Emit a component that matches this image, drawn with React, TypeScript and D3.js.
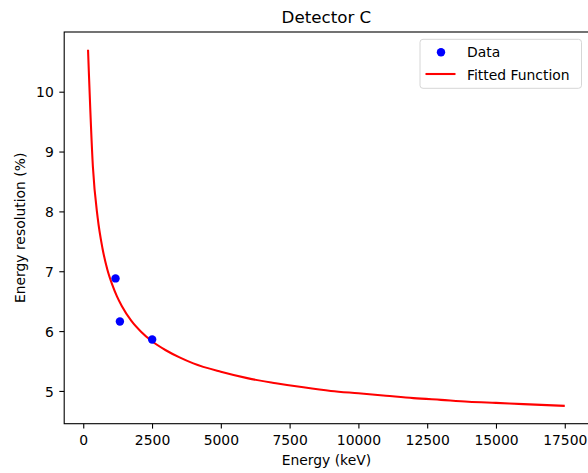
import * as d3 from "d3";
import { useRef, useEffect } from "react";

// measured points
const dataEnergy = [1173, 1332, 2505];
const dataResolution = [6.88, 6.16, 5.86];

// fitted curve
const fitEnergy = [
  174, 350, 525, 700, 875, 1050, 1225, 1400, 1750, 2100, 2500, 3000, 3500, 4000,
  5000, 6000, 7000, 8000, 9000, 10000, 11000, 12000, 13000, 14000, 15000, 16000, 17500,
];
const fitResolution = [
  10.7, 8.75, 7.89, 7.38, 7.03, 6.78, 6.58, 6.42, 6.17, 5.99, 5.83, 5.68, 5.56, 5.46,
  5.32, 5.21, 5.13, 5.06, 5.0, 4.96, 4.92, 4.88, 4.85, 4.82, 4.8, 4.78, 4.75,
];

const xTicks = [0, 2500, 5000, 7500, 10000, 12500, 15000, 17500];
const yTicks = [5, 6, 7, 8, 9, 10];
const legendLabels = ["Data", "Fitted Function"];

const W = 588;
const H = 473;
const margin = { top: 32, right: -0.6, bottom: 49.3, left: 64.2 };
const FONT = "DejaVu Sans, sans-serif";

function App() {
  const ref = useRef<SVGSVGElement>(null);

  useEffect(() => {
    const svg = d3.select(ref.current);
    svg.selectAll("*").remove();

    const x0 = margin.left;
    const x1 = W - margin.right;
    const y0 = margin.top;
    const y1 = H - margin.bottom;

    // matplotlib style 5% margins
    const allX = [...fitEnergy, ...dataEnergy];
    const allY = [...fitResolution, ...dataResolution];
    const [xmin, xmax] = d3.extent(allX) as [number, number];
    const [ymin, ymax] = d3.extent(allY) as [number, number];
    const xp = (xmax - xmin) * 0.05;
    const yp = (ymax - ymin) * 0.05;

    const x = d3.scaleLinear().domain([xmin - xp, xmax + xp]).range([x0, x1]);
    const y = d3.scaleLinear().domain([ymin - yp, ymax + yp]).range([y1, y0]);

    const plot = svg.append("g");

    // fitted line
    const line = d3
      .line<number>()
      .x((d, i) => x(fitEnergy[i]))
      .y((d) => y(d))
      .curve(d3.curveMonotoneX);
    plot
      .append("path")
      .attr("d", line(fitResolution))
      .attr("fill", "none")
      .attr("stroke", "#ff0000")
      .attr("stroke-width", 2.08);

    // data markers
    plot
      .selectAll("circle")
      .data(dataEnergy)
      .join("circle")
      .attr("cx", (d) => x(d))
      .attr("cy", (d, i) => y(dataResolution[i]))
      .attr("r", 4.2)
      .attr("fill", "#0000ff");

    // axes
    const xAxis = svg
      .append("g")
      .attr("transform", `translate(0,${y1})`)
      .call(d3.axisBottom(x).tickValues(xTicks).tickSize(4.9).tickPadding(7).tickFormat(d3.format("d")));
    const yAxis = svg
      .append("g")
      .attr("transform", `translate(${x0},0)`)
      .call(d3.axisLeft(y).tickValues(yTicks).tickSize(4.9).tickPadding(5.5).tickFormat(d3.format("d")));

    [xAxis, yAxis].forEach((ax) => {
      ax.select(".domain").remove();
      ax.selectAll("line").attr("stroke", "#000").attr("stroke-width", 1.1);
      ax.selectAll("text")
        .attr("font-family", FONT)
        .attr("font-size", 13.9)
        .attr("fill", "#000");
    });
    yAxis.selectAll("text").attr("dy", "0.37em");

    // frame
    svg
      .append("rect")
      .attr("x", x0)
      .attr("y", y0)
      .attr("width", x1 - x0)
      .attr("height", y1 - y0)
      .attr("fill", "none")
      .attr("stroke", "#000")
      .attr("stroke-width", 1.1);

    // title and labels
    svg
      .append("text")
      .attr("x", (x0 + x1) / 2)
      .attr("y", 23)
      .attr("text-anchor", "middle")
      .attr("font-family", FONT)
      .attr("font-size", 16.7)
      .text("Detector C");

    svg
      .append("text")
      .attr("x", (x0 + x1) / 2)
      .attr("y", 464.5)
      .attr("text-anchor", "middle")
      .attr("font-family", FONT)
      .attr("font-size", 13.9)
      .text("Energy (keV)");

    svg
      .append("text")
      .attr("transform", `translate(25,${(y0 + y1) / 2}) rotate(-90)`)
      .attr("text-anchor", "middle")
      .attr("font-family", FONT)
      .attr("font-size", 13.9)
      .text("Energy resolution (%)");

    // legend
    const lg = svg.append("g").attr("transform", "translate(420,39.3)");
    lg.append("rect")
      .attr("width", 161.5)
      .attr("height", 49)
      .attr("rx", 3)
      .attr("fill", "#fff")
      .attr("fill-opacity", 0.8)
      .attr("stroke", "#d6d6d6")
      .attr("stroke-width", 1);
    lg.append("circle").attr("cx", 21).attr("cy", 13).attr("r", 4.2).attr("fill", "#0000ff");
    lg.append("line")
      .attr("x1", 5.5)
      .attr("x2", 35.5)
      .attr("y1", 34.7)
      .attr("y2", 34.7)
      .attr("stroke", "#ff0000")
      .attr("stroke-width", 2.08);
    lg.selectAll("text.lbl")
      .data(legendLabels)
      .join("text")
      .attr("class", "lbl")
      .attr("x", 47)
      .attr("y", (d, i) => 18 + i * 22.5)
      .attr("font-family", FONT)
      .attr("font-size", 13.9)
      .text((d) => d);
  }, []);

  return (
    <div style={{ position: "absolute", left: 0, top: 0 }}>
      <svg ref={ref} width={W} height={H} style={{ display: "block", background: "#fff" }}></svg>
    </div>
  );
}

export default App;
